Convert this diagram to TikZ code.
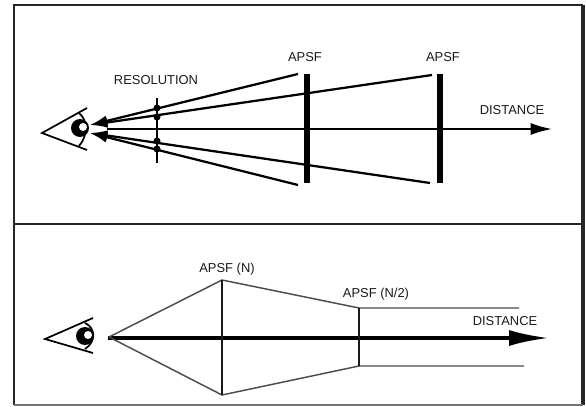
\documentclass[tikz,border=0pt]{standalone}
\usepackage{fontspec}
\setmainfont{Liberation Sans}
\usetikzlibrary{arrows.meta,positioning,calc}

\begin{document}
\begin{tikzpicture}[
x=0.75pt, y=-0.75pt,
label/.style={inner sep=0pt, font=\fontsize{9.7}{11}\selectfont, text=black!90},
frameline/.style={black!85, line width=1.5pt},
lid/.style={line width=1.3pt},
ray/.style={line width=1.7pt},
thinray/.style={line width=1.1pt, black!70},
bar/.style={line width=4pt},
thinbar/.style={line width=2pt, black!90},
axis/.style={line width=1.4pt, -{Latex[length=16pt,width=9pt]}},
bigaxis/.style={line width=2.8pt, -{Latex[length=30pt,width=12pt]}},
tip/.style={-{Latex[length=13pt,width=8pt]}}
]
\useasboundingbox (0,0) rectangle (586,407);
% frame
\draw[frameline] (14,405) -- (14,5) -- (583,5);
\draw[frameline, line width=2.4pt] (583,5) -- (583,405);
\draw[frameline] (14,224) -- (583,224);
\draw[black!55, line width=1pt] (14,405) -- (583,405);
% upper eye
\draw[lid] (87,108) -- (42,133) -- (87,150);
\draw[lid] (79,113) .. controls (88,120) and (88,136) .. (79,146);
\fill (80,128) circle (9);
\fill[white] (83,127) circle (4);
% upper part
\coordinate (eyeA) at (90,125);
\coordinate (eyeB) at (90,133);
\coordinate (start) at (107,129);
\coordinate (end) at (552,129);
\coordinate (raya) at (298,74);
\coordinate (rayb) at (432,75);
\coordinate (rayc) at (298,185);
\coordinate (rayd) at (430,183);
\coordinate (resa) at (157,98);
\coordinate (resb) at (157,163);
\coordinate (nearA) at (307,74);
\coordinate (nearB) at (307,183);
\coordinate (farA) at (440,74);
\coordinate (farB) at (440,183);
\draw[axis] (start) -- (end);
\draw[ray, tip] (raya) -- (eyeA);
\draw[ray, tip] (rayb) -- (eyeA);
\draw[ray, tip] (rayc) -- (eyeB);
\draw[ray, tip] (rayd) -- (eyeB);
\draw[line width=1.8pt] (resa) -- (resb);
\foreach \y in {108,117,141,149} {
  \fill (157,\y) circle (3.5);
}
\draw[bar] (nearA) -- (nearB);
\draw[bar] (farA) -- (farB);
\node[label] (resolution) at (156,80) {RESOLUTION};
\node[label] (apsfa) at (305,57) {APSF};
\node[label] (apsfb) at (443,57) {APSF};
\node[label] (dista) at (512,110) {DISTANCE};
% lower eye
\draw[lid] (93,318) -- (45,339) -- (93,353);
\draw[lid] (85,323) .. controls (96,328) and (96,342) .. (85,349);
\fill (85,336) circle (9);
\fill[white] (88,335) circle (4);
% lower part
\coordinate (apex) at (109,337);
\coordinate (tail) at (108,338);
\coordinate (head) at (549,338);
\coordinate (na) at (222,280);
\coordinate (nb) at (222,395);
\coordinate (ma) at (359,308);
\coordinate (mb) at (359,366);
\coordinate (ea) at (519,308);
\coordinate (eb) at (524,366);
\draw[bigaxis] (tail) -- (head);
\draw[thinray] (apex) -- (na) -- (ma) -- (ea);
\draw[thinray] (apex) -- (nb) -- (mb) -- (eb);
\draw[thinbar] (na) -- (nb);
\draw[thinbar] (ma) -- (mb);
\node[label] (apsfn) at (227,269) {APSF (N)};
\node[label] (apsfm) at (376,294) {APSF (N/2)};
\node[label] (distb) at (505,321) {DISTANCE};
\end{tikzpicture}
\end{document}
